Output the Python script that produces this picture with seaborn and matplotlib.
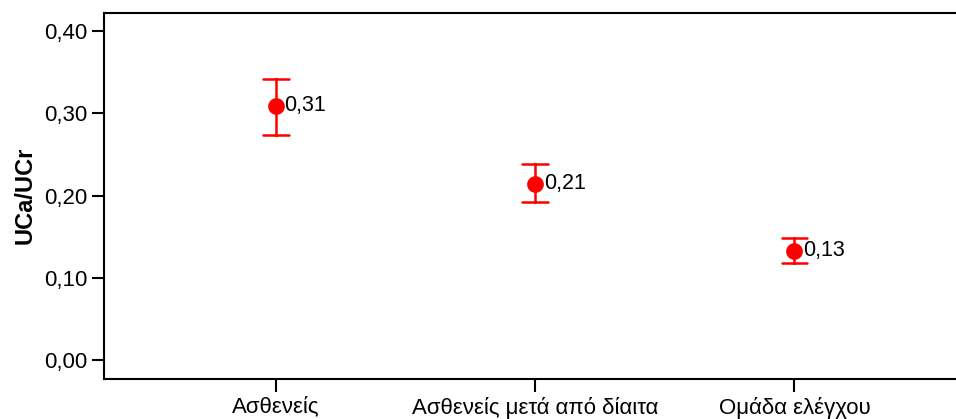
import matplotlib
matplotlib.use("Agg")
import matplotlib.pyplot as plt
from matplotlib.ticker import FuncFormatter, MultipleLocator
import pandas as pd
import seaborn as sns

# Group means of UCa/UCr with lower/upper error-bar limits
groups = ["Ασθενείς", "Ασθενείς μετά από δίαιτα", "Ομάδα ελέγχου"]
means = [0.309, 0.214, 0.133]
lower = [0.274, 0.192, 0.118]
upper = [0.342, 0.238, 0.148]

sns.set_theme(style="ticks")
plt.rcParams["font.family"] = ["Liberation Sans", "DejaVu Sans"]
plt.rcParams["text.color"] = "black"
plt.rcParams["axes.labelcolor"] = "black"
plt.rcParams["xtick.color"] = "black"
plt.rcParams["ytick.color"] = "black"

# Long table: the median of (low, mean, high) is the mean, the full range is the bar
rows = []
for g, lo, m, hi in zip(groups, lower, means, upper):
    for v in (lo, m, hi):
        rows.append({"group": g, "value": v})
df = pd.DataFrame(rows)

fig = plt.figure(figsize=(9.56, 4.19), dpi=100)
ax = fig.add_axes([104 / 956, 1 - 378.5 / 419, 1 - 104 / 956 + 0.01, (378.5 - 13) / 419])

red = "#ff0000"
sns.pointplot(
    data=df, x="group", y="value", order=groups,
    estimator="median", errorbar=("pi", 100),
    linestyle="none", color=red, markers="o", markersize=10,
    capsize=0.1, err_kws={"linewidth": 1.8}, ax=ax,
)

for i, m in enumerate(means):
    ax.annotate(f"{m:.2f}".replace(".", ","), (i, m), xytext=(6, 0),
                textcoords="offset points", va="center", ha="left",
                fontsize=15.5, color="black")

ax.set_xlim(-0.664, 2.66)
ax.set_ylim(-0.0225, 0.4219)
ax.yaxis.set_major_locator(MultipleLocator(0.1))
ax.yaxis.set_major_formatter(FuncFormatter(lambda v, p: f"{v:.2f}".replace(".", ",")))

ax.set_xlabel("")
ax.set_ylabel("UCa/UCr", fontsize=17, fontweight="bold", labelpad=5)
ax.tick_params(axis="both", labelsize=16, width=1.5, length=9, color="black", pad=3)
ax.tick_params(axis="x", pad=4)
for side in ("left", "top", "bottom"):
    ax.spines[side].set_linewidth(1.5)
    ax.spines[side].set_color("black")
ax.spines["right"].set_visible(False)

fig.savefig("out.png", dpi=100)
